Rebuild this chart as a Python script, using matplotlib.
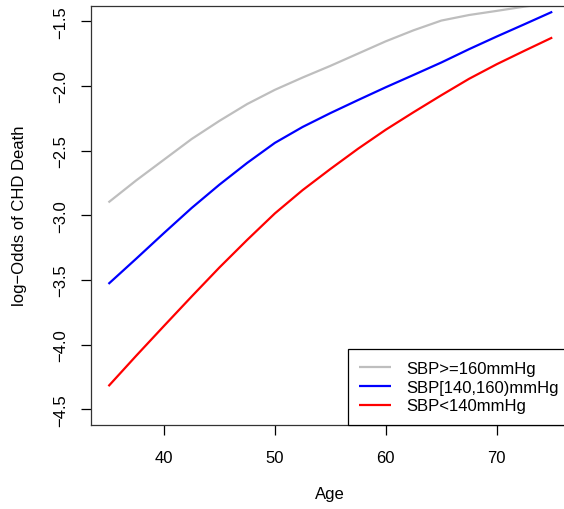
import matplotlib
matplotlib.use("Agg")
import matplotlib.pyplot as plt

plt.rcParams['font.family'] = ['Liberation Sans', 'DejaVu Sans']

# log-odds of CHD death, by age and blood pressure group
age = [35, 37.5, 40, 42.5, 45, 47.5, 50, 52.5, 55, 57.5,
       60, 62.5, 65, 67.5, 70, 72.5, 75]
sbp_high = [-2.90, -2.73, -2.57, -2.41, -2.27, -2.14, -2.03, -1.935, -1.845,
            -1.75, -1.655, -1.57, -1.495, -1.452, -1.42, -1.387, -1.36]
sbp_mid = [-3.53, -3.335, -3.137, -2.943, -2.763, -2.595, -2.44, -2.317, -2.21,
           -2.109, -2.010, -1.915, -1.819, -1.716, -1.618, -1.523, -1.427]
sbp_low = [-4.32, -4.085, -3.855, -3.627, -3.403, -3.19, -2.985, -2.805, -2.642,
           -2.485, -2.338, -2.203, -2.072, -1.945, -1.832, -1.728, -1.626]

labels = ['SBP>=160mmHg', 'SBP[140,160)mmHg', 'SBP<140mmHg']
colors = ['#BEBEBE', '#0000FF', '#FF0000']

xticks = [40, 50, 60, 70]
yticks = [-4.5, -4.0, -3.5, -3.0, -2.5, -2.0, -1.5]

fig = plt.figure(figsize=(5.64, 5.10), dpi=100)
# the right edge of the plot box lies just outside the picture, as in the original
ax = fig.add_axes([90.7 / 564, 1 - 426 / 510, (570 - 90.7) / 564, (426 - 6.7) / 510])

for ys, lab, col in zip([sbp_high, sbp_mid, sbp_low], labels, colors):
    ax.plot(age, ys, color=col, lw=1.6, label=lab, solid_capstyle='butt')

ax.set_xlim(33.4, 76.6)
ax.set_ylim(-4.62, -1.38)
ax.set_xticks(xticks)
ax.set_yticks(yticks)
ax.set_yticklabels([f"{t:.1f}".replace('-', '\u2212') for t in yticks],
                   rotation=90, va='center')
ax.tick_params(axis='both', direction='out', length=7, width=0.9,
               labelsize=12, color='black')
ax.tick_params(axis='x', pad=11)
ax.tick_params(axis='y', pad=9)
for s in ax.spines.values():
    s.set_linewidth(0.9)
    s.set_color('#333333')

fig.text(330 / 564, 1 - 495 / 510, 'Age', ha='center', va='center', fontsize=12)
fig.text(20 / 564, 1 - 216 / 510, 'log\u2212Odds of CHD Death', ha='center',
         va='center', rotation=90, fontsize=12)

leg = ax.legend(loc='lower right', bbox_to_anchor=(1, 0), borderaxespad=0,
                fontsize=12, frameon=True, fancybox=False, framealpha=1,
                edgecolor='black', handlelength=1.9, handletextpad=0.9,
                labelspacing=0.22, borderpad=0.7)
leg.get_frame().set_linewidth(0.9)

fig.savefig('out.png', dpi=100)
